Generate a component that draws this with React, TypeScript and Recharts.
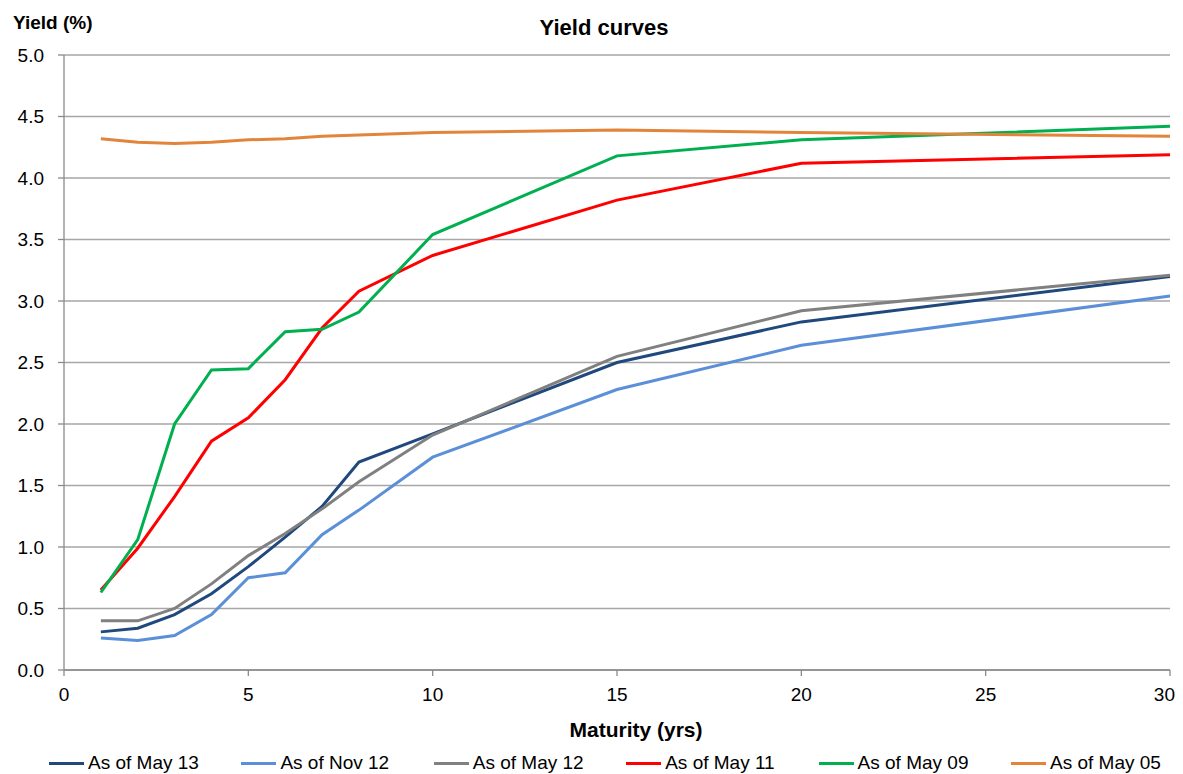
import React from "react";
import { LineChart, Line, XAxis, YAxis, CartesianGrid } from "recharts";

const maturities = [1, 2, 3, 4, 5, 6, 7, 8, 10, 15, 20, 30];
const may13 = [0.31, 0.34, 0.45, 0.62, 0.84, 1.08, 1.33, 1.69, 1.92, 2.5, 2.83, 3.2];
const nov12 = [0.26, 0.24, 0.28, 0.45, 0.75, 0.79, 1.1, 1.3, 1.73, 2.28, 2.64, 3.04];
const may12 = [0.4, 0.4, 0.5, 0.7, 0.93, 1.11, 1.31, 1.53, 1.91, 2.55, 2.92, 3.21];
const may11 = [0.65, 0.99, 1.41, 1.86, 2.05, 2.36, 2.78, 3.08, 3.37, 3.82, 4.12, 4.19];
const may09 = [0.63, 1.06, 2.0, 2.44, 2.45, 2.75, 2.77, 2.91, 3.54, 4.18, 4.31, 4.42];
const may05 = [4.32, 4.29, 4.28, 4.29, 4.31, 4.32, 4.34, 4.35, 4.37, 4.39, 4.37, 4.34];

const xTicks = [0, 5, 10, 15, 20, 25, 30];
const yTicks = [0, 0.5, 1, 1.5, 2, 2.5, 3, 3.5, 4, 4.5, 5];

const series = [
  { key: "may13", name: "As of May 13", color: "#1F497D", values: may13 },
  { key: "nov12", name: "As of Nov 12", color: "#5B8FD8", values: nov12 },
  { key: "may12", name: "As of May 12", color: "#808080", values: may12 },
  { key: "may11", name: "As of May 11", color: "#FF0000", values: may11 },
  { key: "may09", name: "As of May 09", color: "#00B050", values: may09 },
  { key: "may05", name: "As of May 05", color: "#E3843B", values: may05 },
];

const data = maturities.map((m, i) => {
  const row: Record<string, number> = { m };
  series.forEach((s) => {
    row[s.key] = s.values[i];
  });
  return row;
});

const FONT = "'Liberation Sans', Arial, sans-serif";

const XTick = (props: any) => {
  const { x, y, payload } = props;
  const last = payload.value === xTicks[xTicks.length - 1];
  return (
    <text
      x={last ? x + 5 : x}
      y={y}
      dy="0.71em"
      textAnchor={last ? "end" : "middle"}
      fill="#000"
      fontSize={19}
      fontFamily={FONT}
    >
      {payload.value}
    </text>
  );
};

export default function App() {
  return (
    <div style={{ position: "relative", width: 1175, height: 766, fontFamily: FONT, color: "#000" }}>
      <style>{`html,body{overflow:hidden;} .recharts-surface{overflow:visible;} .recharts-wrapper{overflow:visible;}`}</style>
      <LineChart
        width={1175}
        height={766}
        data={data}
        margin={{ top: 47, right: 13, left: 0, bottom: 0 }}
      >
        <CartesianGrid vertical={false} stroke="#a6a6a6" strokeWidth={1.3} />
        <XAxis
          dataKey="m"
          type="number"
          domain={[0, 30]}
          ticks={xTicks}
          height={104}
          axisLine={{ stroke: "#8a8a8a", strokeWidth: 1.3 }}
          tickLine={{ stroke: "#8a8a8a", strokeWidth: 1.3 }}
          tickSize={6}
          tickMargin={12}
          tick={<XTick />}
        />
        <YAxis
          type="number"
          domain={[0, 5]}
          ticks={yTicks}
          width={56}
          interval={0}
          axisLine={{ stroke: "#8a8a8a", strokeWidth: 1.3 }}
          tickLine={{ stroke: "#8a8a8a", strokeWidth: 1.3 }}
          tickSize={6}
          tickMargin={14}
          tickFormatter={(v: number) => v.toFixed(1)}
          tick={{ fill: "#000", fontSize: 19, fontFamily: FONT }}
        />
        {series.map((s) => (
          <Line
            key={s.key}
            dataKey={s.key}
            name={s.name}
            type="linear"
            stroke={s.color}
            strokeWidth={3}
            dot={false}
            activeDot={false}
            isAnimationActive={false}
          />
        ))}
      </LineChart>
      <div
        style={{
          position: "absolute",
          left: 5,
          top: 4,
          fontSize: 19,
          fontWeight: "bold",
          lineHeight: "22px",
          whiteSpace: "nowrap",
        }}
      >
        Yield (%)
      </div>
      <div
        style={{
          position: "absolute",
          left: 0,
          width: 1192,
          top: 7,
          textAlign: "center",
          fontSize: 22,
          fontWeight: "bold",
          lineHeight: "26px",
        }}
      >
        Yield curves
      </div>
      <div
        style={{
          position: "absolute",
          left: 0,
          width: 1256,
          top: 709,
          textAlign: "center",
          fontSize: 21,
          fontWeight: "bold",
          lineHeight: "26px",
        }}
      >
        Maturity (yrs)
      </div>
      {series.map((s, i) => (
        <div
          key={s.key}
          style={{
            position: "absolute",
            left: 41 + 192.4 * i,
            top: 744,
            height: 22,
            display: "flex",
            alignItems: "center",
            whiteSpace: "nowrap",
            fontSize: 19,
          }}
        >
          <span style={{ display: "inline-block", width: 35, height: 3, background: s.color, marginRight: 4 }} />
          <span>{s.name}</span>
        </div>
      ))}
    </div>
  );
}
